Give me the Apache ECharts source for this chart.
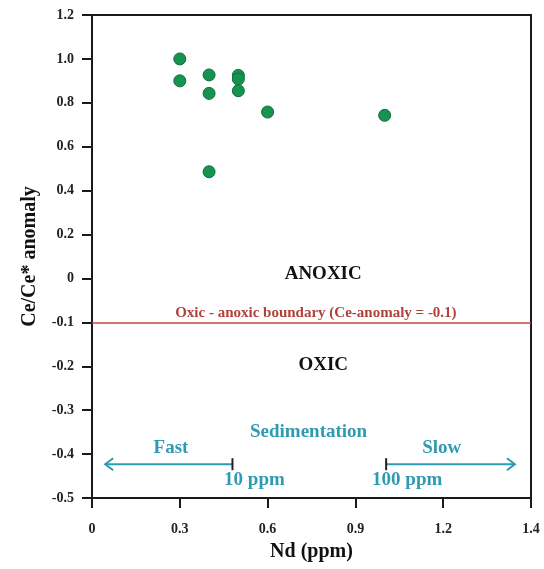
<!DOCTYPE html>
<html>
<head>
<meta charset="utf-8">
<script src="https://cdn.jsdelivr.net/npm/echarts@6/dist/echarts.min.js"></script>
<style>
html,body{margin:0;padding:0;background:#fff;}
#chart{width:544px;height:569px;}
</style>
</head>
<body>
<div id="chart"></div>
<script>
// ---- data ----
const nd = [0.3, 0.3, 0.4, 0.4, 0.4, 0.5, 0.5, 0.5, 0.6, 1.0];
const ceAnomaly = [1.0, 0.90, 0.927, 0.843, 0.486, 0.925, 0.908, 0.855, 0.758, 0.743];
const xTickLabels = ['0', '0.3', '0.6', '0.9', '1.2', '1.4'];
const yTickLabels = ['-0.5', '-0.4', '-0.3', '-0.2', '-0.1', '0', '0.2', '0.4', '0.6', '0.8', '1.0', '1.2'];
const boundaryValue = -0.1;
const annotationTexts = ['ANOXIC', 'Oxic - anoxic boundary (Ce-anomaly = -0.1)', 'OXIC', 'Sedimentation', 'Fast', 'Slow', '10 ppm', '100 ppm'];

// The original figure's y axis uses 0.2 steps above zero and 0.1 steps below zero
// with equal tick spacing; map real values onto that axis.
function toAxisY(v) { return v >= 0 ? v : v * 2; }

// ---- layout (annotation placement, in data units) ----
const annotationLayout = [
  {x: 0.79, y: 0.02, color: '#111', size: 19},
  {x: 0.765, y: -0.079, color: '#b0413b', size: 15},
  {x: 0.79, y: -0.198, color: '#111', size: 19},
  {x: 0.74, y: -0.35, color: '#2f9bb3', size: 19},
  {x: 0.27, y: -0.387, color: '#2f9bb3', size: 19},
  {x: 1.195, y: -0.387, color: '#2f9bb3', size: 19},
  {x: 0.555, y: -0.459, color: '#2f9bb3', size: 19},
  {x: 1.077, y: -0.459, color: '#2f9bb3', size: 19}
];
const arrowLayout = [
  // [from, to, y, headSide(-1 left, 1 right)]
  [0.045, 0.48, -0.423, -1],
  [1.005, 1.445, -0.423, 1]
];

const FONT = '"Liberation Serif", "Times New Roman", serif';
const chart = echarts.init(document.getElementById('chart'));

const option = {
  animation: false,
  backgroundColor: '#fff',
  grid: {left: 92, right: 13, top: 15, bottom: 71, show: true, borderColor: '#1a1a1a', borderWidth: 2, backgroundColor: 'transparent'},
  xAxis: {
    type: 'value', min: 0, max: 1.5, interval: 0.3,
    name: 'Nd (ppm)', nameLocation: 'middle', nameGap: 44,
    nameTextStyle: {fontFamily: FONT, fontWeight: 'bold', fontSize: 20, color: '#111'},
    axisLine: {show: true, onZero: false, lineStyle: {color: '#1a1a1a', width: 2}},
    axisTick: {show: true, inside: false, length: 10, lineStyle: {color: '#1a1a1a', width: 2}},
    splitLine: {show: false},
    axisLabel: {
      fontFamily: FONT, fontWeight: 'bold', fontSize: 14, color: '#222', margin: 24,
      showMinLabel: true, showMaxLabel: true,
      formatter: function (v) { return xTickLabels[Math.round(v / 0.3)]; }
    }
  },
  yAxis: {
    type: 'value', min: -1.0, max: 1.2, interval: 0.2,
    name: 'Ce/Ce* anomaly', nameLocation: 'middle', nameGap: 52,
    nameTextStyle: {fontFamily: FONT, fontWeight: 'bold', fontSize: 20, color: '#111'},
    axisLine: {show: true, onZero: false, lineStyle: {color: '#1a1a1a', width: 2}},
    axisTick: {show: true, inside: false, length: 10, lineStyle: {color: '#1a1a1a', width: 2}},
    splitLine: {show: false},
    axisLabel: {
      fontFamily: FONT, fontWeight: 'bold', fontSize: 14, color: '#222', margin: 18,
      showMinLabel: true, showMaxLabel: true,
      formatter: function (v) { return yTickLabels[Math.round((v + 1.0) / 0.2)]; }
    }
  },
  series: [
    {
      type: 'scatter',
      symbol: 'circle',
      symbolSize: 12,
      itemStyle: {color: '#16944f', borderColor: '#0e6e3a', borderWidth: 1, opacity: 1},
      data: nd.map((x, i) => [x, toAxisY(ceAnomaly[i])]),
      markLine: {
        silent: true, symbol: ['none', 'none'], label: {show: false},
        lineStyle: {color: '#c4473f', width: 1.6, type: 'solid'},
        data: [{yAxis: toAxisY(boundaryValue)}]
      },
      z: 5
    },
    {
      type: 'custom',
      silent: true,
      data: arrowLayout.map(a => [a[0], a[1], toAxisY(a[2]), a[3]]),
      renderItem: function (params, api) {
        const x1 = api.value(0), x2 = api.value(1), y = api.value(2), dir = api.value(3);
        const p1 = api.coord([x1, y]), p2 = api.coord([x2, y]);
        const head = dir < 0 ? p1 : p2;
        const tail = dir < 0 ? p2 : p1;
        const s = dir < 0 ? 1 : -1;
        const teal = '#2f9bb3';
        return {
          type: 'group',
          children: [
            {type: 'line', shape: {x1: p1[0], y1: p1[1], x2: p2[0], y2: p2[1]}, style: {stroke: teal, lineWidth: 2}},
            {type: 'polyline', shape: {points: [[head[0] + s * 8, head[1] - 6], [head[0], head[1]], [head[0] + s * 8, head[1] + 6]]}, style: {stroke: teal, lineWidth: 2, fill: null}},
            {type: 'line', shape: {x1: tail[0], y1: tail[1] - 6, x2: tail[0], y2: tail[1] + 6}, style: {stroke: '#222', lineWidth: 2}}
          ]
        };
      },
      z: 4
    },
    {
      type: 'custom',
      silent: true,
      data: annotationLayout.map((a, i) => [a.x, toAxisY(a.y), i]),
      renderItem: function (params, api) {
        const i = api.value(2);
        const p = api.coord([api.value(0), api.value(1)]);
        const a = annotationLayout[i];
        return {
          type: 'text',
          style: {
            text: annotationTexts[i], x: p[0], y: p[1],
            textAlign: 'center', textVerticalAlign: 'middle',
            fill: a.color, font: 'bold ' + a.size + 'px ' + FONT
          }
        };
      },
      z: 6
    }
  ]
};
chart.setOption(option);
</script>
</body>
</html>
